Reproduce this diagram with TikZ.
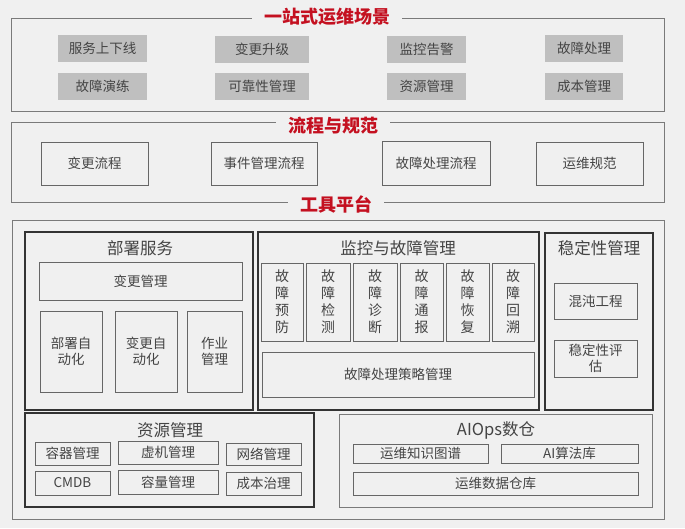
\documentclass[tikz,border=0pt]{standalone}
\usepackage{fontspec}
\setmainfont{Noto Sans CJK SC}
\usetikzlibrary{positioning}
\definecolor{bgpaper}{HTML}{F0F0F0}
\definecolor{framegray}{HTML}{7A7A7A}
\definecolor{groupgray}{HTML}{333333}
\definecolor{cellline}{HTML}{666666}
\definecolor{cellgray}{HTML}{BFBFBF}
\definecolor{titlered}{HTML}{C41020}
\definecolor{textgray}{HTML}{444444}

\begin{document}
\begin{tikzpicture}[
    x=1pt, y=-1pt,
    dims/.style 2 args={minimum width=#1pt, minimum height=#2pt},
    frame/.style={draw=framegray, line width=0.9pt, inner sep=0pt},
    frametitle/.style={fill=bgpaper, text=titlered, font=\fontsize{18}{20}\selectfont\bfseries, inner xsep=12pt, inner ysep=1pt},
    scene/.style={fill=cellgray, inner sep=0pt, font=\fontsize{13.5}{15}\selectfont, text=textgray},
    cell/.style={draw=cellline, line width=0.9pt, inner sep=0pt, align=center, font=\fontsize{13.5}{16}\selectfont, text=textgray},
    vcell/.style={cell, font=\fontsize{14}{17}\selectfont},
    group/.style={draw=groupgray, line width=1.2pt, inner sep=0pt},
    grouptitle/.style={font=\fontsize{16.5}{18}\selectfont, text=textgray}
]
    \fill[bgpaper] (0,0) rectangle (685,528);
    \useasboundingbox (0,0) rectangle (685,528);

    % Scenes
    \node[frame, dims={653}{93}] (scenes) at (337.5,64.5) {};
    \node[frametitle] (scenestitle) at (327,17) {一站式运维场景};
    \node[scene, dims={89}{27}] (online) at (102.5,48.5) {服务上下线};
    \node[scene, dims={94}{27}] (upgrade) at (262,49.5) {变更升级};
    \node[scene, dims={79}{27}] (alarm) at (426.5,49.5) {监控告警};
    \node[scene, dims={78}{27}] (fault) at (584,48.5) {故障处理};
    \node[scene, dims={89}{27}] (drill) at (102.5,86.5) {故障演练};
    \node[scene, dims={94}{27}] (reliable) at (262,86.5) {可靠性管理};
    \node[scene, dims={79}{27}] (resource) at (426.5,86.5) {资源管理};
    \node[scene, dims={78}{27}] (cost) at (584,86.5) {成本管理};

    % Process and rules
    \node[frame, dims={653}{80}] (process) at (337.5,162) {};
    \node[frametitle] (processtitle) at (333,126) {流程与规范};
    \node[cell, dims={107}{43}] (changeflow) at (94.5,163.5) {变更流程};
    \node[cell, dims={106}{43}] (eventflow) at (264,163.5) {事件管理流程};
    \node[cell, dims={108}{44}] (faultflow) at (436,163) {故障处理流程};
    \node[cell, dims={107}{43}] (opsrules) at (589.5,163.5) {运维规范};

    % Tool platform
    \node[frame, dims={652}{299}] (platform) at (338,369.5) {};
    \node[frametitle] (platformtitle) at (336,204) {工具平台};

    % Deployment
    \node[group, dims={228}{178}] (deploy) at (139,321) {};
    \node[grouptitle] (deploytitle) at (140,248) {部署服务};
    \node[cell, dims={203}{38}] (changemgmt) at (140.5,281) {变更管理};
    \node[cell, dims={62}{81}] (deployauto) at (71,351.5) {部署自\\动化};
    \node[cell, dims={62}{81}] (changeauto) at (146,351.5) {变更自\\动化};
    \node[cell, dims={55}{81}] (jobmgmt) at (214.5,351.5) {作业\\管理};

    % Monitoring and faults
    \node[group, dims={281}{178}] (monitor) at (398.5,321) {};
    \node[grouptitle] (monitortitle) at (398,248) {监控与故障管理};
    \node[vcell, dims={42}{78}] (prevent) at (282,302) {故\\障\\预\\防};
    \node[vcell, dims={44}{78}] (detect) at (328,302) {故\\障\\检\\测};
    \node[vcell, dims={44}{78}] (diagnose) at (375,302) {故\\障\\诊\\断};
    \node[vcell, dims={43}{78}] (notify) at (421.5,302) {故\\障\\通\\报};
    \node[vcell, dims={43}{78}] (recover) at (467.5,302) {故\\障\\恢\\复};
    \node[vcell, dims={42}{78}] (review) at (513,302) {故\\障\\回\\溯};
    \node[cell, dims={272}{45}] (strategy) at (398,374.5) {故障处理策略管理};

    % Stability
    \node[group, dims={108}{177}] (stability) at (599,321.5) {};
    \node[grouptitle] (stabilitytitle) at (599,248) {稳定性管理};
    \node[cell, dims={83}{36}] (chaos) at (595.5,301) {混沌工程};
    \node[cell, dims={83}{37}] (assess) at (595.5,358.5) {稳定性评\\估};

    % Resources
    \node[group, dims={289}{94}] (resources) at (169.5,460) {};
    \node[grouptitle] (resourcestitle) at (170,430) {资源管理};
    \node[cell, dims={75}{23}] (container) at (72.5,453.5) {容器管理};
    \node[cell, dims={100}{23}] (vm) at (168,452.5) {虚机管理};
    \node[cell, dims={75}{22}] (network) at (263.5,454) {网络管理};
    \node[cell, dims={75}{24}] (cmdb) at (72.5,483) {CMDB};
    \node[cell, dims={100}{24}] (capacity) at (168,482) {容量管理};
    \node[cell, dims={75}{23}] (costgov) at (263.5,483.5) {成本治理};

    % AIOps warehouse
    \node[frame, dims={313}{93}] (aiops) at (495.5,460.5) {};
    \node[grouptitle] (aiopstitle) at (496,430) {AIOps数仓};
    \node[cell, dims={135}{19}] (knowledge) at (420.5,453.5) {运维知识图谱};
    \node[cell, dims={137}{19}] (algo) at (569.5,453.5) {AI算法库};
    \node[cell, dims={285}{23}] (warehouse) at (495.5,483.5) {运维数据仓库};
\end{tikzpicture}
\end{document}
